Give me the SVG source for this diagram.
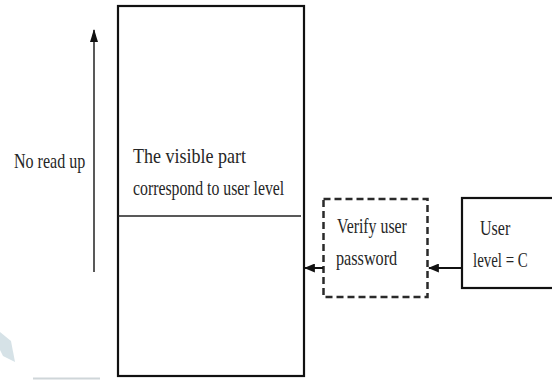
<svg xmlns="http://www.w3.org/2000/svg" width="552" height="380" viewBox="0 0 552 380">
  <style>
    .lbl { font-family: "Liberation Serif", "Times New Roman", serif; font-size: 22px; fill: #262626; }
    .box { fill: #fff; stroke: #111; stroke-width: 2.2; }
    .dash { fill: none; stroke: #2a2a2a; stroke-width: 2.5; stroke-dasharray: 7 4; }
    .conn { stroke: #111; stroke-width: 2; fill: none; }
    .thin { stroke: #222; stroke-width: 1.5; fill: none; }
  </style>
  <defs>
    <marker id="head" viewBox="0 0 12 10" refX="11" refY="5" markerWidth="11" markerHeight="9" markerUnits="userSpaceOnUse" orient="auto">
      <path d="M0,0 L12,5 L0,10 z" fill="#111"/>
    </marker>
    <marker id="headUp" viewBox="0 0 13 8" refX="12" refY="4" markerWidth="13" markerHeight="8" markerUnits="userSpaceOnUse" orient="auto">
      <path d="M0,0 L13,4 L0,8 z" fill="#111"/>
    </marker>
  </defs>

  <rect width="552" height="380" fill="#fff"/>

  <!-- faint light-blue corner mark and grey base strip -->
  <path d="M0,332 L11,341 L15,362 L3,356 L0,350 Z" fill="#d6e2e7"/>
  <line x1="33" y1="378.5" x2="100" y2="378.5" stroke="#cfd6d9" stroke-width="2"/>

  <!-- memory column with visible-part divider; labels use a condensed serif (x-scaled) -->
  <g id="memory">
    <rect class="box" x="118" y="6" width="186" height="370"/>
    <line class="thin" x1="118" y1="216" x2="301" y2="216"/>
    <text class="lbl" transform="translate(133 163) scale(0.72 1)" textLength="157" lengthAdjust="spacingAndGlyphs">The visible part</text>
    <text class="lbl" transform="translate(133 195) scale(0.72 1)" textLength="210" lengthAdjust="spacingAndGlyphs">correspond to user level</text>
  </g>

  <!-- no-read-up direction label -->
  <g id="no-read-up">
    <text class="lbl" transform="translate(14 168) scale(0.72 1)" textLength="99" lengthAdjust="spacingAndGlyphs">No read up</text>
  </g>

  <g id="verify">
    <rect class="dash" x="323.5" y="199" width="104" height="98"/>
    <text class="lbl" transform="translate(337 233) scale(0.72 1)" textLength="97" lengthAdjust="spacingAndGlyphs">Verify user</text>
    <text class="lbl" transform="translate(336 265) scale(0.72 1)" textLength="85" lengthAdjust="spacingAndGlyphs">password</text>
  </g>

  <g id="user-level">
    <rect class="box" x="462" y="198" width="92" height="90"/>
    <text class="lbl" transform="translate(480 235) scale(0.72 1)" textLength="42" lengthAdjust="spacingAndGlyphs">User</text>
    <text class="lbl" transform="translate(473 267) scale(0.72 1)" textLength="76" lengthAdjust="spacingAndGlyphs">level = C</text>
  </g>

  <g id="connectors">
    <line class="thin" x1="94" y1="272" x2="94" y2="30" marker-end="url(#headUp)"/>
    <line class="conn" x1="462" y1="268" x2="429" y2="268" marker-end="url(#head)"/>
    <line class="conn" x1="323" y1="268" x2="305" y2="268" marker-end="url(#head)"/>
  </g>
</svg>
